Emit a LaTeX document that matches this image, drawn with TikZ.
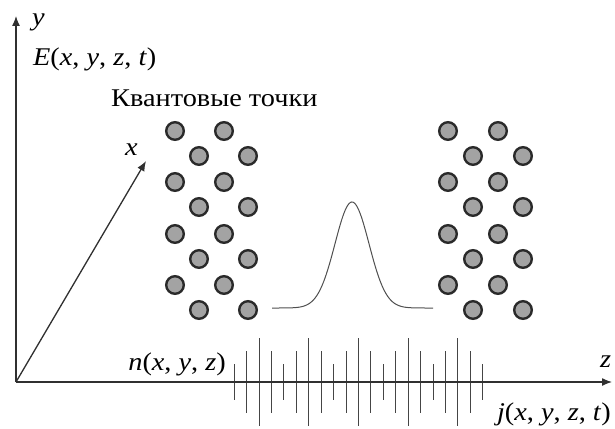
\documentclass[tikz,border=0pt]{standalone}
\usepackage{fontspec}
\setmainfont{Liberation Serif}[ItalicFont={Liberation Serif Italic}]
\usetikzlibrary{arrows.meta}
\definecolor{dotfill}{HTML}{A3A3A3}
\definecolor{dotline}{HTML}{2A2A2A}
\definecolor{axisc}{HTML}{303030}
\newcommand{\wide}[1]{\scalebox{1.11}[1]{#1}}
\begin{document}
\begin{tikzpicture}[x=1pt,y=-1pt,
  lbl/.style={anchor=base west,inner sep=0pt,font=\fontsize{25.5}{30}\selectfont},
  qdot/.style={circle,draw=dotline,fill=dotfill,line width=2.4pt,minimum size=17.6pt,inner sep=0pt},
  axisline/.style={draw=axisc,line width=1.3pt,-{Latex[length=10pt,width=8pt]}},
  tick/.style={draw=axisc!90,line width=1pt},
  pulse/.style={draw=axisc!85,line width=1pt}]
\useasboundingbox (0,0) rectangle (615,428);
\coordinate (O) at (16,382);
\coordinate (ytip) at (16,16);
\coordinate (ztip) at (612,382);
\coordinate (xtip) at (146,161);
% ticks
\foreach \i in {0,...,20}{
  \pgfmathtruncatemacro{\m}{mod(\i,4)}
  \ifcase\m \def\h{18}\or \def\h{31}\or \def\h{44}\or \def\h{31}\fi
  \coordinate (tt\i) at ({234.3+12.42*\i},{382-\h});
  \coordinate (tb\i) at ({234.3+12.42*\i},{382+\h});
  \draw[tick] (tt\i) -- (tb\i);
}
\draw[axisline] (O) -- (ytip);
\draw[axisline] (O) -- (ztip);
\draw[axisline] (O) -- (xtip);
% quantum dots
\foreach \r/\ya/\yb in {0/131/156,1/182/207,2/234/259,3/285/310}{
  \node[qdot] (LA\r a) at (175,\ya) {};
  \node[qdot] (LA\r b) at (224,\ya) {};
  \node[qdot] (LB\r a) at (199,\yb) {};
  \node[qdot] (LB\r b) at (248,\yb) {};
  \node[qdot] (RA\r a) at (448,\ya) {};
  \node[qdot] (RA\r b) at (498,\ya) {};
  \node[qdot] (RB\r a) at (473,\yb) {};
  \node[qdot] (RB\r b) at (523,\yb) {};
}
% pulse
\draw[pulse] plot[domain=272:433,samples=120,smooth] (\x,{308-106*exp(-((\x-352)/17)^2/2)});
% labels
\node[lbl] (ly) at (32,26) {\wide{\textit{y}}};
\node[lbl] (lE) at (33,66) {\wide{\textit{E}(\textit{x}, \textit{y}, \textit{z}, \textit{t})}};
\node[lbl] (lq) at (111,106) {\wide{Квантовые точки}};
\node[lbl] (lx) at (125,155) {\wide{\textit{x}}};
\node[lbl,anchor=base east] (ln) at (226,370) {\wide{\textit{n}(\textit{x}, \textit{y}, \textit{z})}};
\node[lbl] (lz) at (600,367) {\wide{\textit{z}}};
\node[lbl,anchor=base east] (lj) at (611,420) {\wide{\textit{j}(\textit{x}, \textit{y}, \textit{z}, \textit{t})}};
\end{tikzpicture}
\end{document}
